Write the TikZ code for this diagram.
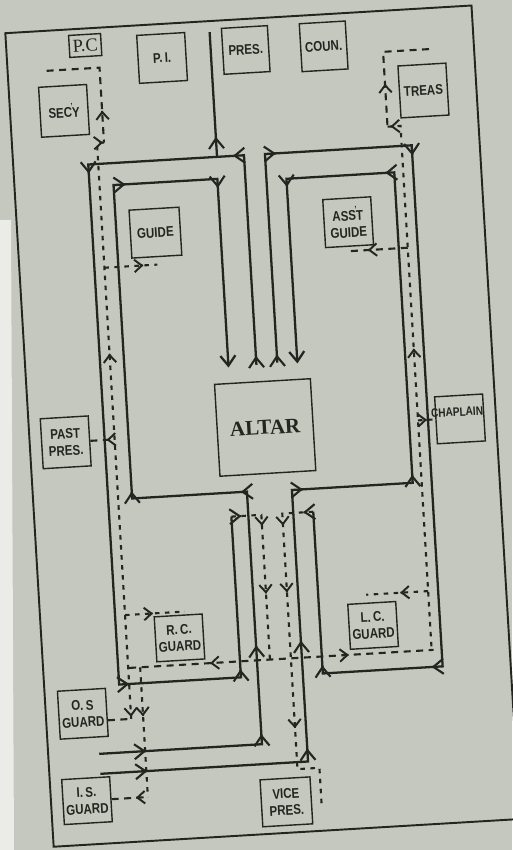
\documentclass[tikz,border=0pt]{standalone}
\usepackage{fontspec}
\newfontfamily\boxfont[FakeStretch=0.82]{Liberation Sans}
\newfontfamily\altarfont{Liberation Serif}
\usetikzlibrary{arrows.meta,decorations.markings}
\definecolor{paper}{RGB}{197,200,190}
\definecolor{ink}{RGB}{36,36,33}

\begin{document}
\begin{tikzpicture}[
  x=0.02cm, y=-0.02cm, color=ink,
  station/.style={draw, line width=0.8pt, minimum width=0.96cm, minimum height=0.96cm,
    inner sep=1pt, align=center, font=\boxfont\bfseries\fontsize{8}{9.5}\selectfont},
  wall/.style={line width=1.1pt},
  walk/.style={line width=1.3pt, line join=miter},
  headed/.style={-{Straight Barb[length=2mm, width=3mm]}},
  trail/.style={line width=1.2pt, dash pattern=on 0.9mm off 1.1mm},
  spur/.style={line width=1.2pt, dash pattern=on 1.4mm off 1.1mm},
  barb/.style={postaction={decorate, decoration={markings, mark=at position #1 with
    {\draw[solid, line width=1.2pt, -{Straight Barb[length=2mm, width=3mm]}] (-0.2pt,0) -- (0,0);}}}},
  smallbarb/.style={postaction={decorate, decoration={markings, mark=at position #1 with
    {\draw[solid, line width=1.1pt, -{Straight Barb[length=1.5mm, width=2.5mm]}] (-0.2pt,0) -- (0,0);}}}}
]
% paper
\fill[paper] (0,0) rectangle (512,850);
\fill[paper!35!white] (0,220) -- (11,220) -- (14,850) -- (0,850) -- cycle;
\useasboundingbox (0,0) rectangle (512,850);

\begin{scope}[rotate around={3.4:(256,425)}, transform shape]
\draw[wall] (29,19) rectangle (496,834);

% stations
\node[station, minimum width=0.64cm, minimum height=0.44cm,
  font=\altarfont\fontsize{10.5}{11}\selectfont] (pc) at (108,36) {P.C};
\node[station] (pi) at (184,53) {P.\,I.};
\node[station, minimum width=0.92cm, minimum height=0.92cm] (pres) at (268,50) {PRES.};
\node[station, minimum width=0.92cm] (coun) at (346,51) {COUN.};
\node[station, minimum height=1.04cm] (treas) at (443,101) {TREAS};
\node[station, minimum height=1cm] (secy) at (83,100)
  {SEC\makebox[0pt]{\raisebox{1.1ex}{\tiny\textquoteright}}Y};
\node[station, minimum width=1cm] (guide) at (167,227) {GUIDE};
\node[station] (asstguide) at (360,228)
  {ASS\makebox[0pt]{\raisebox{1.1ex}{\tiny\textquoteright}}T\\GUIDE};
\node[station, minimum height=1cm] (pastpres) at (65,431) {PAST\\PRES.};
\node[station, minimum width=1.92cm, minimum height=1.84cm,
  font=\altarfont\bfseries\fontsize{12}{14}\selectfont] (altar) at (265,428) {ALTAR};
\node[station, minimum height=0.94cm,
  label={[font=\boxfont\bfseries\fontsize{7}{8}\selectfont, xshift=-0.05cm, yshift=0.14cm]center:CHAPLAIN}]
  (chaplain) at (460,431) {};
\node[station, minimum height=0.9cm] (rcguard) at (167,633) {R.\,C.\\GUARD};
\node[station, minimum height=0.9cm] (lcguard) at (361,632) {L.\,C.\\GUARD};
\node[station] (osguard) at (66,703) {O.\,S\\GUARD};
\node[station, minimum height=0.9cm] (isguard) at (65,790) {I.\,S.\\GUARD};
\node[station, minimum width=1cm, minimum height=0.94cm] (vicepres) at (264,803) {VICE\\PRES.};

% solid walks
\draw[walk] (260,365) -- (260,155) -- (104,155) -- (104,676) -- (226,676) -- (226,515);
\draw[walk] (233,155) -- (233,30);
\draw[walk] (281,364) -- (281,155) -- (428,155) -- (428,677) -- (308,677) -- (308,515);
\draw[walk, headed] (80,744) -- (243,744) -- (243,491) -- (128,491) -- (128,177) -- (232,177) -- (232,366);
\draw[walk, headed] (80,764) -- (288,764) -- (288,492) -- (409,492) -- (409,181) -- (301,181) -- (301,366);

% dotted walks
\draw[spur] (68,59) -- (121,59) -- (121,134);
\draw[trail] (121,134) -- (114,134) -- (114,711);
\draw[spur] (osguard.east |- 0,711) -- (114,711);
\draw[trail] (126,660) -- (126,790);
\draw[spur] (isguard.east |- 0,790) -- (126,790);
\draw[spur] (pastpres.east) -- (114,431);
\draw[trail] (114,259) -- (167,259);
\draw[trail] (114,607) -- (174,607);
\draw[spur] (451,60) -- (405,60) -- (405,135);
\draw[trail] (405,135) -- (418,135) -- (418,660);
\draw[trail] (418,430) -- (chaplain.west |- 0,430);
\draw[spur] (418,257) -- (356,257);
\draw[trail] (418,601) -- (356,601);
\draw[spur] (115,660) -- (420,660);
\draw[trail] (226,515) -- (256,515) -- (256,660);
\draw[trail] (308,515) -- (277,515) -- (277,771) -- (299,771) -- (299,809);

% arrow marks on solid walks
\path[barb=.5] (260,357) -- (260,355);
\path[barb=.5] (250,155) -- (248,155);
\path[barb=.5] (233,136) -- (233,134);
\path[barb=.5] (104,163) -- (104,165);
\path[barb=.5] (113,676) -- (115,676);
\path[barb=.5] (226,669) -- (226,667);
\path[barb=.5] (235,515) -- (237,515);
\path[barb=.5] (281,357) -- (281,355);
\path[barb=.5] (291,155) -- (293,155);
\path[barb=.5] (428,164) -- (428,166);
\path[barb=.5] (418,677) -- (416,677);
\path[barb=.5] (308,670) -- (308,668);
\path[barb=.5] (299,515) -- (297,515);
\path[barb=.5] (126,744) -- (128,744);
\path[barb=.5] (243,735) -- (243,733);
\path[barb=.5] (243,646) -- (243,644);
\path[barb=.5] (238,491) -- (236,491);
\path[barb=.5] (128,485) -- (128,483);
\path[barb=.5] (139,177) -- (141,177);
\path[barb=.5] (232,185) -- (232,187);
\path[barb=.5] (126,764) -- (128,764);
\path[barb=.5] (288,752) -- (288,750);
\path[barb=.5] (288,644) -- (288,642);
\path[barb=.5] (298,492) -- (300,492);
\path[barb=.5] (409,485) -- (409,483);
\path[barb=.5] (401,181) -- (399,181);
\path[barb=.5] (301,188) -- (301,190);

% arrow marks on dotted walks
\path[smallbarb=.5] (121,103) -- (121,101);
\path[smallbarb=.5] (119,134) -- (121,134);
\path[smallbarb=.5] (114,346) -- (114,344);
\path[smallbarb=.5] (107,431) -- (105,431);
\path[smallbarb=.5] (152,259) -- (154,259);
\path[smallbarb=.5] (141,607) -- (143,607);
\path[smallbarb=.5] (114,708) -- (114,710);
\path[smallbarb=.5] (126,708) -- (126,710);
\path[smallbarb=.5] (115,790) -- (113,790);
\path[smallbarb=.5] (405,93) -- (405,91);
\path[smallbarb=.5] (409,135) -- (407,135);
\path[smallbarb=.5] (418,359) -- (418,357);
\path[smallbarb=.5] (426,430) -- (428,430);
\path[smallbarb=.5] (379,257) -- (377,257);
\path[smallbarb=.5] (391,601) -- (389,601);
\path[smallbarb=.5] (197,660) -- (195,660);
\path[smallbarb=.5] (334,660) -- (336,660);
\path[smallbarb=.5] (256,525) -- (256,527);
\path[smallbarb=.5] (256,593) -- (256,595);
\path[smallbarb=.5] (277,526) -- (277,528);
\path[smallbarb=.5] (277,593) -- (277,595);
\path[smallbarb=.5] (277,729) -- (277,731);
\end{scope}
\end{tikzpicture}
\end{document}
